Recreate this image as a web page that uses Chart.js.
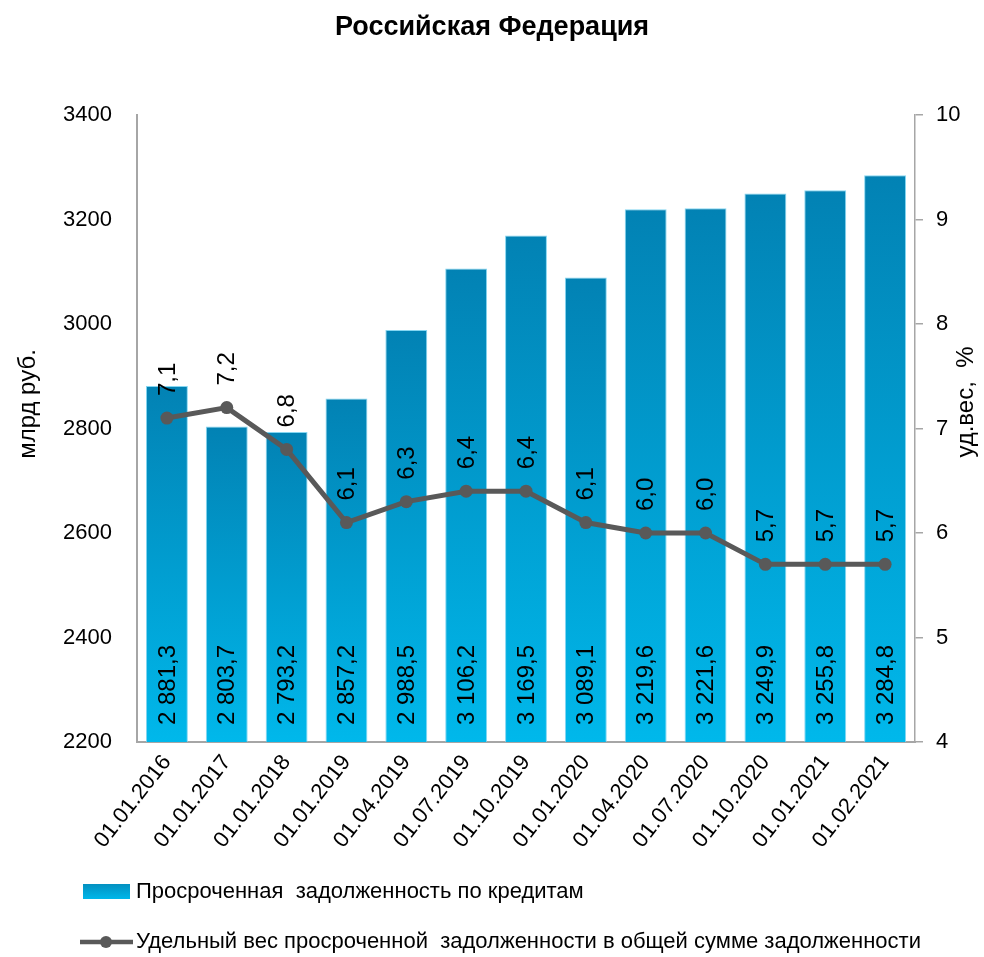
<!DOCTYPE html>
<html>
<head>
<meta charset="utf-8">
<script src="https://cdn.jsdelivr.net/npm/chart.js@4/dist/chart.umd.min.js"></script>
<style>
  body { margin: 0; background: #fff; }
  #wrap { width: 984px; height: 957px; }
</style>
</head>
<body>
<div id="wrap"><canvas id="chart" width="984" height="957"></canvas></div>
<script>
// Data
const dates = ['01.01.2016', '01.01.2017', '01.01.2018', '01.01.2019', '01.04.2019', '01.07.2019', '01.10.2019',
    '01.01.2020', '01.04.2020', '01.07.2020', '01.10.2020', '01.01.2021', '01.02.2021'];
const overdueDebt = [2881.3, 2803.7, 2793.2, 2857.2, 2988.5, 3106.2, 3169.5, 3089.1, 3219.6, 3221.6, 3249.9, 3255.8, 3284.8];
const overdueShare = [7.1, 7.2, 6.8, 6.1, 6.3, 6.4, 6.4, 6.1, 6.0, 6.0, 5.7, 5.7, 5.7];

const TITLE = 'Российская Федерация';
const LEFT_TITLE = 'млрд руб.';
const RIGHT_TITLE = 'уд.вес,  %';
const LEGEND_BARS = 'Просроченная  задолженность по кредитам';
const LEGEND_LINE = 'Удельный вес просроченной  задолженности в общей сумме задолженности';

const FONT = '"Liberation Sans Narrow", "Arial Narrow", "Liberation Sans", Arial, sans-serif';
const FS = 24;
Chart.defaults.font.family = FONT;
Chart.defaults.font.size = FS;
Chart.defaults.color = '#000';

const AXIS_GREY = '#a6a6a6';
const LINE_GREY = '#595959';

function fmtDebt(v) {
    const parts = v.toFixed(1).split('.');
    return parts[0].replace(/\B(?=(\d{3})+(?!\d))/g, ' ') + ',' + parts[1];
}
function fmtShare(v) {
    return v.toFixed(1).replace('.', ',');
}

// per-bar vertical gradient, dark at top, light at bottom
function barGradient(ctx) {
    const chart = ctx.chart;
    const y = chart.scales.y;
    if (!y || !chart.chartArea || ctx.dataIndex === undefined) return '#0aa0d0';
    const top = y.getPixelForValue(overdueDebt[ctx.dataIndex]);
    const bottom = y.getPixelForValue(y.min);
    if (!isFinite(top) || !isFinite(bottom) || top === bottom) return '#0aa0d0';
    const g = chart.ctx.createLinearGradient(0, top, 0, bottom);
    g.addColorStop(0, '#0282b4');
    g.addColorStop(1, '#00b8eb');
    return g;
}

const extras = {
    id: 'extras',
    afterDatasetsDraw(chart) {
        const ctx = chart.ctx;
        const bars = chart.getDatasetMeta(0).data;
        const pts = chart.getDatasetMeta(1).data;
        const base = chart.chartArea.bottom;
        ctx.save();
        ctx.fillStyle = '#000';
        ctx.font = FS + 'px ' + FONT;
        ctx.textBaseline = 'middle';
        ctx.textAlign = 'left';
        // bar values, rotated, near the bottom
        bars.forEach((b, i) => {
            ctx.save();
            ctx.translate(b.x, base - 17);
            ctx.rotate(-Math.PI / 2);
            ctx.fillText(fmtDebt(overdueDebt[i]), 0, 1);
            ctx.restore();
        });
        // line values, rotated, above points
        pts.forEach((p, i) => {
            ctx.save();
            ctx.translate(p.x, p.y - 22);
            ctx.rotate(-Math.PI / 2);
            ctx.fillText(fmtShare(overdueShare[i]), 0, 1);
            ctx.restore();
        });
        ctx.restore();
    },
    afterDraw(chart) {
        const ctx = chart.ctx;
        ctx.save();
        ctx.fillStyle = '#000';
        ctx.textBaseline = 'middle';

        // title
        ctx.font = 'bold 27px ' + FONT;
        ctx.textAlign = 'center';
        ctx.fillText(TITLE, 492, 28);

        // axis titles
        ctx.font = FS + 'px ' + FONT;
        ctx.save();
        ctx.translate(28, 404);
        ctx.rotate(-Math.PI / 2);
        ctx.fillText(LEFT_TITLE, 0, 0);
        ctx.restore();
        ctx.save();
        ctx.translate(966, 402);
        ctx.rotate(-Math.PI / 2);
        ctx.fillText(RIGHT_TITLE, 0, 0);
        ctx.restore();

        // legend
        ctx.font = '22px ' + FONT;
        ctx.textAlign = 'left';
        const g = ctx.createLinearGradient(0, 884, 0, 899);
        g.addColorStop(0, '#0390c0');
        g.addColorStop(1, '#00b7ea');
        ctx.fillStyle = g;
        ctx.fillRect(83, 884, 47, 15);
        ctx.fillStyle = '#000';
        ctx.fillText(LEGEND_BARS, 136, 892);

        ctx.strokeStyle = LINE_GREY;
        ctx.lineWidth = 4.5;
        ctx.beginPath();
        ctx.moveTo(80, 942);
        ctx.lineTo(133, 942);
        ctx.stroke();
        ctx.fillStyle = LINE_GREY;
        ctx.beginPath();
        ctx.arc(106, 942, 6, 0, Math.PI * 2);
        ctx.fill();
        ctx.fillStyle = '#000';
        ctx.fillText(LEGEND_LINE, 136, 942);
        ctx.restore();
    }
};

new Chart(document.getElementById('chart'), {
    data: {
        labels: dates,
        datasets: [
            {
                type: 'bar',
                label: LEGEND_BARS,
                data: overdueDebt,
                yAxisID: 'y',
                backgroundColor: barGradient,
                borderColor: 'rgba(120, 210, 240, 0.9)',
                borderWidth: 1,
                barPercentage: 0.7,
                categoryPercentage: 1.0,
                order: 2
            },
            {
                type: 'line',
                label: LEGEND_LINE,
                data: overdueShare,
                yAxisID: 'y1',
                borderColor: LINE_GREY,
                backgroundColor: LINE_GREY,
                borderWidth: 5,
                pointRadius: 6.5,
                pointBackgroundColor: LINE_GREY,
                pointBorderWidth: 0,
                tension: 0,
                order: 1
            }
        ]
    },
    options: {
        responsive: false,
        animation: false,
        layout: { padding: { top: 115, left: 0, right: 0, bottom: 0 } },
        plugins: {
            legend: { display: false },
            title: { display: false },
            tooltip: { enabled: false }
        },
        scales: {
            x: {
                grid: { display: false, drawTicks: false },
                border: { display: true, color: AXIS_GREY, width: 2 },
                ticks: { minRotation: 52, maxRotation: 52, padding: 8, font: { size: 22 } },
                afterFit: s => { s.height = 215; }
            },
            y: {
                position: 'left',
                min: 2200,
                max: 3400,
                ticks: { stepSize: 200, padding: 25, font: { size: 22 }, callback: v => String(v) },
                grid: { display: false, drawTicks: false },
                border: { display: true, color: AXIS_GREY, width: 2 },
                afterFit: s => { s.width = 137; }
            },
            y1: {
                position: 'right',
                min: 4,
                max: 10,
                ticks: { stepSize: 1, padding: 13, font: { size: 22 } },
                grid: { drawOnChartArea: false, drawTicks: true, tickLength: 8, color: AXIS_GREY, lineWidth: 1.5 },
                border: { display: true, color: AXIS_GREY, width: 1.5 },
                afterFit: s => { s.width = 69; }
            }
        }
    },
    plugins: [extras]
});
</script>
</body>
</html>
